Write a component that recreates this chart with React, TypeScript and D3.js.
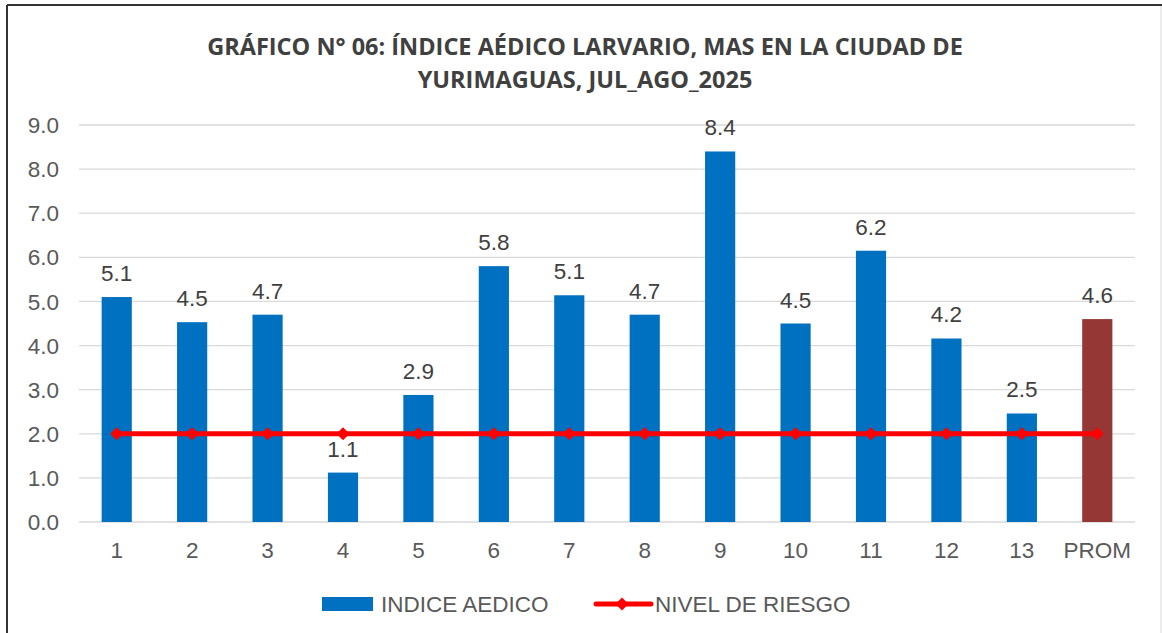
import * as d3 from "d3";

const categories = ["1", "2", "3", "4", "5", "6", "7", "8", "9", "10", "11", "12", "13", "PROM"];
const indiceAedico = [5.1, 4.53, 4.7, 1.12, 2.88, 5.8, 5.14, 4.7, 8.4, 4.5, 6.15, 4.16, 2.46, 4.6];
const nivelRiesgo = [2, 2, 2, 2, 2, 2, 2, 2, 2, 2, 2, 2, 2, 2];
const yTickValues = [0, 1, 2, 3, 4, 5, 6, 7, 8, 9];
const titleLines = [
  "GRÁFICO N° 06: ÍNDICE AÉDICO LARVARIO, MAS EN LA CIUDAD DE",
  "YURIMAGUAS, JUL_AGO_2025",
];

const width = 1162;
const height = 633;
const margin = { top: 125, right: 27, bottom: 111, left: 79 };
const boundsWidth = width - margin.left - margin.right;
const boundsHeight = height - margin.top - margin.bottom;

const blue = "#0070c0";
const promColor = "#953735";
const red = "#ff0000";
const textColor = "#595959";
const axisFont = "'Liberation Sans', Arial, sans-serif";
const fontSize = 22.5;

export default function App() {
  const xScale = d3.scaleBand().domain(categories).range([0, boundsWidth]).paddingInner(0.6).paddingOuter(0.3);
  const yScale = d3.scaleLinear().domain([0, 9]).range([boundsHeight, 0]);
  const cx = (c: string) => (xScale(c) ?? 0) + xScale.bandwidth() / 2;

  const line = d3
    .line<number>()
    .x((_, i) => cx(categories[i]))
    .y((d) => yScale(d));

  // square rotated 45deg gives the marker diamond
  const diamond = d3.symbol().type(d3.symbolSquare).size(84)() ?? "";

  return (
    <svg
      width={width}
      height={height}
      style={{ position: "fixed", left: 0, top: 0, background: "#fff" }}
    >
      <rect x={0} y={0} width={width} height={height} fill="#fff" />
      {/* frame */}
      <line x1={7} x2={7} y1={5} y2={height} stroke="#333" strokeWidth={2} />
      <line x1={7} x2={width} y1={5} y2={5} stroke="#333" strokeWidth={2} />
      <line x1={width - 1} x2={width - 1} y1={6} y2={height} stroke="#d9d9d9" strokeWidth={1} />

      {titleLines.map((t, i) => (
        <text
          key={i}
          x={585}
          y={55 + i * 33}
          textAnchor="middle"
          fontFamily="'Open Sans', 'Noto Sans', sans-serif"
          fontWeight={700}
          fontSize={23.5}
          fill="#404040"
        >
          {t}
        </text>
      ))}

      <g transform={`translate(${margin.left},${margin.top})`}>
        {yTickValues.map((t) => (
          <g key={t} transform={`translate(0,${yScale(t)})`}>
            <line x1={0} x2={boundsWidth} stroke="#d9d9d9" strokeWidth={1.3} />
            <text x={-20} dy="0.36em" textAnchor="end" fontSize={fontSize} fontFamily={axisFont} fill={textColor}>
              {t.toFixed(1)}
            </text>
          </g>
        ))}

        {categories.map((c, i) => (
          <g key={c}>
            <rect
              x={xScale(c)}
              y={yScale(indiceAedico[i])}
              width={xScale.bandwidth()}
              height={boundsHeight - yScale(indiceAedico[i])}
              fill={c === "PROM" ? promColor : blue}
            />
            <text
              x={cx(c)}
              y={yScale(indiceAedico[i]) - 16}
              textAnchor="middle"
              fontSize={fontSize}
              fontFamily={axisFont}
              fill="#404040"
            >
              {indiceAedico[i].toFixed(1)}
            </text>
            <text
              x={cx(c)}
              y={boundsHeight + 36}
              textAnchor="middle"
              fontSize={fontSize}
              fontFamily={axisFont}
              fill={textColor}
            >
              {c}
            </text>
          </g>
        ))}

        <path d={line(nivelRiesgo) ?? ""} fill="none" stroke={red} strokeWidth={5} />
        {nivelRiesgo.map((v, i) => (
          <path
            key={i}
            d={diamond}
            transform={`translate(${cx(categories[i])},${yScale(v)}) rotate(45)`}
            fill={red}
          />
        ))}
      </g>

      {/* legend */}
      <g transform="translate(322,604)">
        <rect x={0} y={-7} width={51} height={14} fill={blue} />
        <text x={59} dy="0.36em" fontSize={fontSize} fontFamily={axisFont} fill={textColor}>
          INDICE AEDICO
        </text>
        <line x1={274} x2={329} y1={0} y2={0} stroke={red} strokeWidth={5} strokeLinecap="round" />
        <path d={diamond} transform="translate(300,0) rotate(45)" fill={red} />
        <text x={333} dy="0.36em" fontSize={fontSize} fontFamily={axisFont} fill={textColor}>
          NIVEL DE RIESGO
        </text>
      </g>
    </svg>
  );
}
